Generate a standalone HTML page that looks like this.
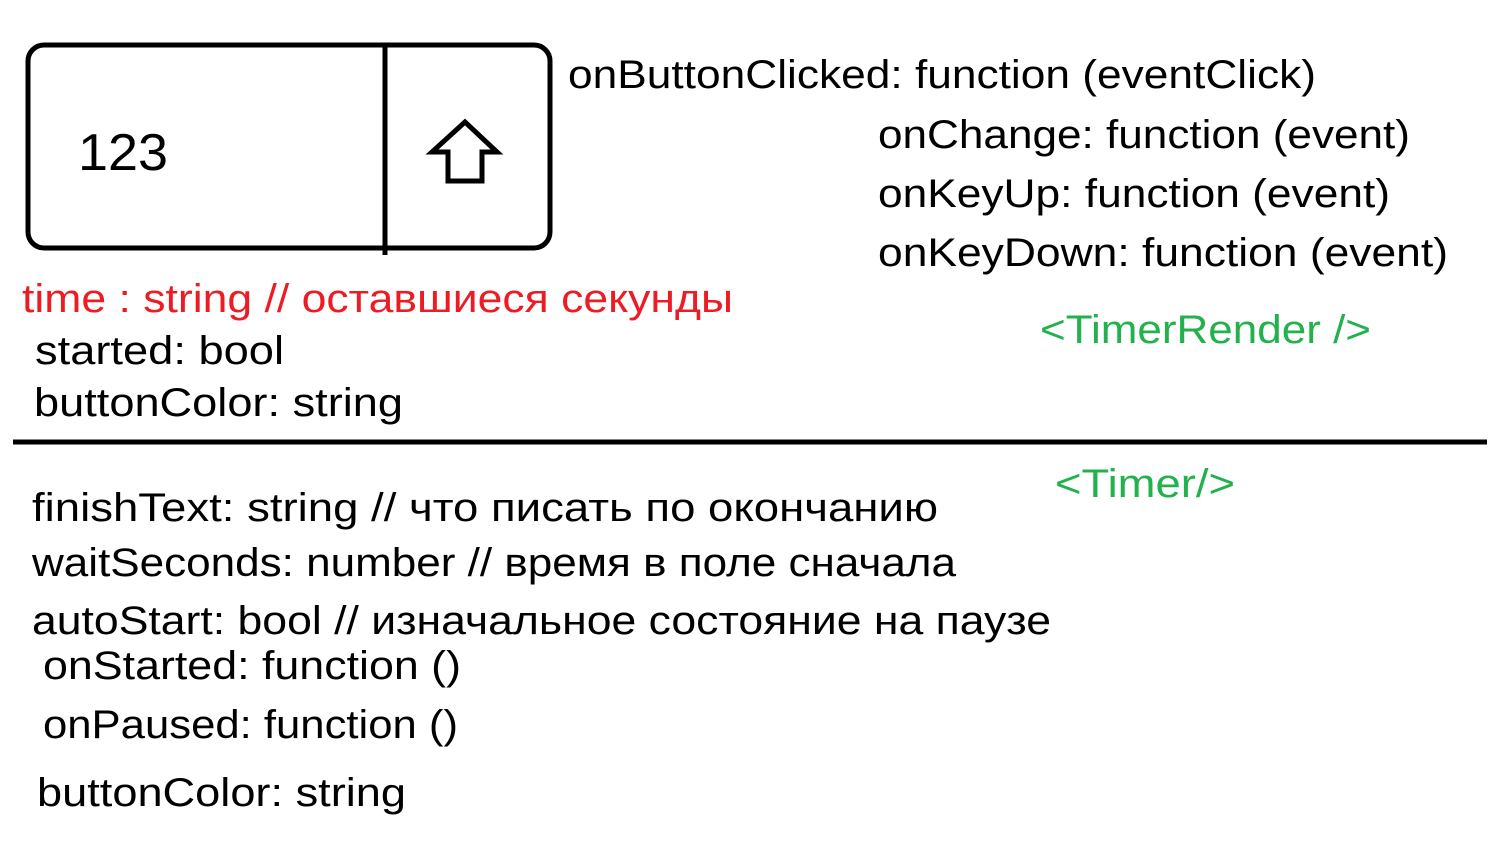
<!DOCTYPE html>
<html><head><meta charset="utf-8"><style>
html,body{margin:0;padding:0;background:#fff;}
svg{display:block}
text{font-family:"Liberation Sans","DejaVu Sans",sans-serif;font-size:40px;fill:#000}
.r{fill:#ed1c24}.g{fill:#22b14c}
</style></head><body>
<svg width="1496" height="849" viewBox="0 0 1496 849" xmlns="http://www.w3.org/2000/svg">
<rect x="28" y="45" width="522" height="203" rx="16" ry="16" fill="none" stroke="#000" stroke-width="5"/>
<line x1="385" y1="45" x2="385" y2="255" stroke="#000" stroke-width="5"/>
<text x="78" y="170" style="font-size:52px" textLength="90" lengthAdjust="spacingAndGlyphs">123</text>
<path d="M465 122 L432 152 L448 152 L448 181 L482 181 L482 152 L497 152 Z" fill="none" stroke="#000" stroke-width="5" stroke-linejoin="miter"/>
<text x="568" y="88" textLength="748" lengthAdjust="spacingAndGlyphs">onButtonClicked: function (eventClick)</text>
<text x="878" y="148" textLength="532" lengthAdjust="spacingAndGlyphs">onChange: function (event)</text>
<text x="878" y="207" textLength="512" lengthAdjust="spacingAndGlyphs">onKeyUp: function (event)</text>
<text x="878" y="266" textLength="570" lengthAdjust="spacingAndGlyphs">onKeyDown: function (event)</text>
<text class="r" x="22" y="312" textLength="711" lengthAdjust="spacingAndGlyphs">time : string // оставшиеся секунды</text>
<text x="35" y="364" textLength="249" lengthAdjust="spacingAndGlyphs">started: bool</text>
<text x="34" y="416" textLength="369" lengthAdjust="spacingAndGlyphs">buttonColor: string</text>
<text class="g" x="1040" y="343" textLength="331" lengthAdjust="spacingAndGlyphs">&lt;TimerRender /&gt;</text>
<line x1="13" y1="442" x2="1487" y2="442" stroke="#000" stroke-width="5"/>
<text class="g" x="1055" y="497" textLength="180" lengthAdjust="spacingAndGlyphs">&lt;Timer/&gt;</text>
<text x="32" y="521" textLength="906" lengthAdjust="spacingAndGlyphs">finishText: string // что писать по  окончанию</text>
<text x="32" y="576" textLength="924" lengthAdjust="spacingAndGlyphs">waitSeconds: number // время в поле сначала</text>
<text x="32" y="634" textLength="1019" lengthAdjust="spacingAndGlyphs">autoStart: bool // изначальное состояние на паузе</text>
<text x="43" y="679" textLength="418" lengthAdjust="spacingAndGlyphs">onStarted: function ()</text>
<text x="43" y="738" textLength="415" lengthAdjust="spacingAndGlyphs">onPaused: function ()</text>
<text x="37" y="806" textLength="369" lengthAdjust="spacingAndGlyphs">buttonColor: string</text>
</svg>
</body></html>
